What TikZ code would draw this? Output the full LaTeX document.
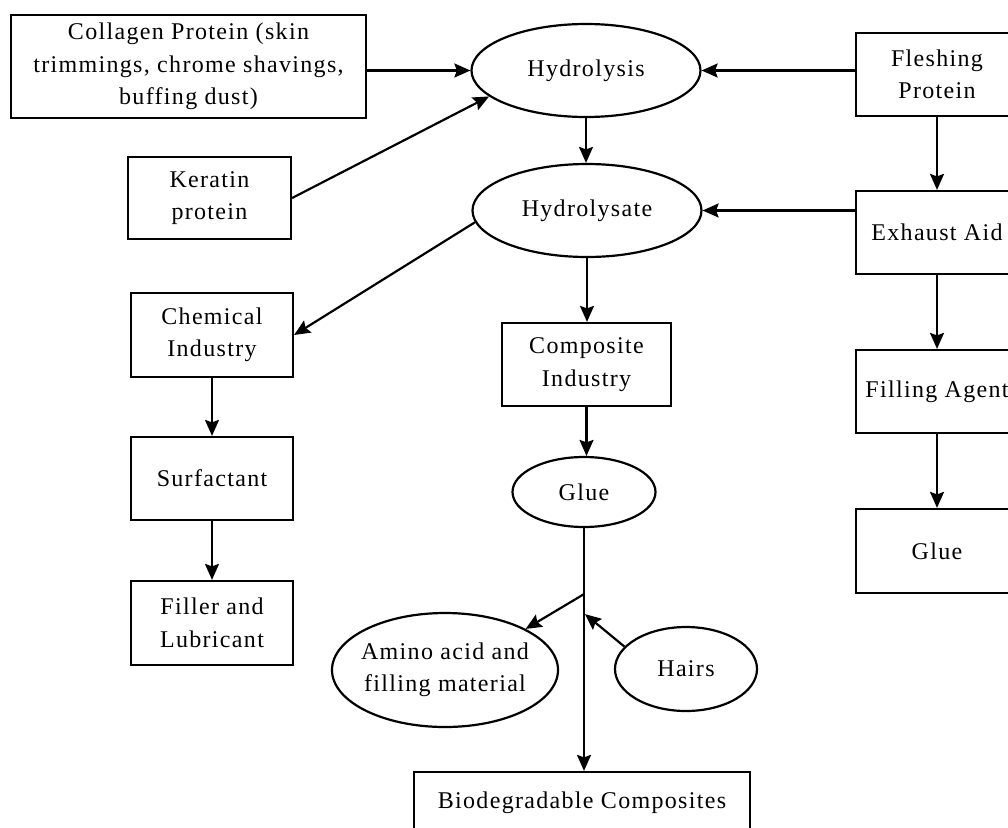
\documentclass[tikz,border=0pt]{standalone}
\usepackage{fontspec}
\setmainfont[LetterSpace=5.5]{Liberation Serif}
\usetikzlibrary{shapes.geometric,arrows.meta,calc}
\tikzset{
  base/.style={draw, line width=2.2pt, inner sep=0pt, align=center, font=\fontsize{24}{32.5}\selectfont},
  box/.style={base, rectangle},
  oval/.style={base, ellipse},
  arr/.style={line width=2.2pt, -{Stealth[length=16pt,width=14pt,inset=2.5pt]}}
}
\begin{document}
\begin{tikzpicture}[x=1pt,y=-1pt]
\useasboundingbox (0,0) rectangle (1008,827);
\clip (0,0) rectangle (1008,827);
% left column
\node[box, minimum width=355pt, minimum height=103pt] (coll) at (188.5,66.5) {Collagen Protein (skin\\trimmings, chrome shavings,\\buffing dust)};
\node[box, minimum width=163pt, minimum height=82pt] (kerat) at (209.5,198) {Keratin\\protein};
\node[box, minimum width=162pt, minimum height=84pt] (chem) at (212,335) {Chemical\\Industry};
\node[box, minimum width=162pt, minimum height=83pt] (surf) at (212,478.5) {Surfactant};
\node[box, minimum width=162pt, minimum height=84pt] (filler) at (212,623) {Filler and\\Lubricant};
% middle column
\node[oval, minimum width=229pt, minimum height=93pt] (hyd) at (586,70.5) {Hydrolysis};
\node[oval, minimum width=229pt, minimum height=93pt] (hydt) at (587,210.5) {Hydrolysate};
\node[box, minimum width=169pt, minimum height=83pt] (comp) at (586.5,364.5) {Composite\\Industry};
\node[oval, minimum width=143pt, minimum height=70pt] (glue) at (584,492) {Glue};
\node[oval, inner xsep=-4pt, minimum width=226pt, minimum height=114pt] (amino) at (445,670) {Amino acid and\\filling material};
\node[oval, minimum width=142pt, minimum height=84pt] (hairs) at (686,669) {Hairs};
\node[box, minimum width=336pt, minimum height=62pt] (bio) at (582,803) {Biodegradable Composites};
% right column
\node[box, minimum width=162pt, minimum height=83pt] (flesh) at (937,74.5) {Fleshing\\Protein};
\node[box, minimum width=162pt, minimum height=83pt] (exh) at (937,232.5) {Exhaust Aid};
\node[box, minimum width=162pt, minimum height=83pt] (fill) at (937,391.5) {Filling Agent};
\node[box, minimum width=162pt, minimum height=84pt] (gluebox) at (937,551) {Glue};
% connectors
\draw[arr] (coll.east |- hyd.west) -- (hyd.west);
\draw[arr] (kerat.east) -- (hyd.195);
\draw[arr] (flesh.west |- hyd.east) -- (hyd.east);
\draw[arr] (hyd.south) -- (hyd.south |- hydt.north);
\draw[arr] (exh.west |- hydt.east) -- (hydt.east);
\draw[arr] (flesh.south) -- (exh.north);
\draw[arr] (exh.south) -- (fill.north);
\draw[arr] (fill.south) -- (gluebox.north);
\draw[arr] (hydt.186) -- (chem.east);
\draw[arr] (chem.south) -- (surf.north);
\draw[arr] (surf.south) -- (filler.north);
\draw[arr] (hydt.south) -- (hydt.south |- comp.north);
\draw[arr] (comp.south) -- (comp.south |- glue.north);
\coordinate (branch) at ($(glue.south)+(0,66)$);
\coordinate (hin) at ($(branch)+(1,20)$);
\draw[arr] (glue.south) -- (glue.south |- bio.north);
\draw[arr] (branch) -- (amino.27);
\draw[arr] (hairs.160) -- (hin);
\end{tikzpicture}
\end{document}
